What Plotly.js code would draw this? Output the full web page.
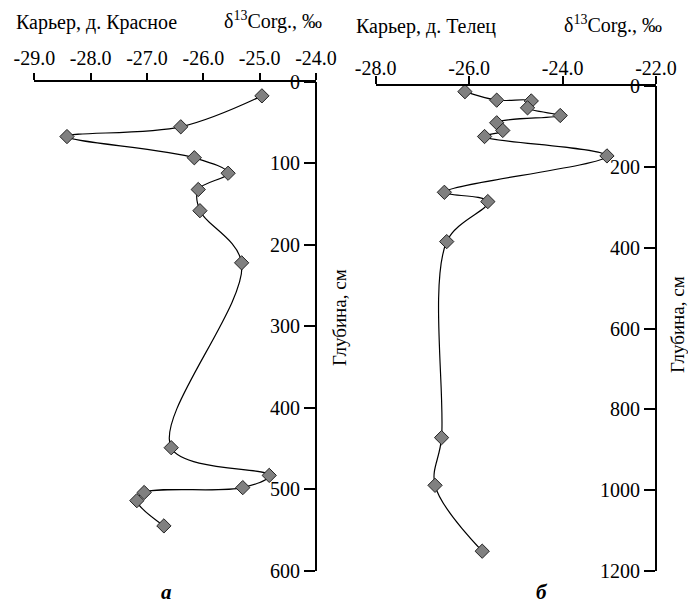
<!DOCTYPE html>
<html>
<head>
<meta charset="utf-8">
<script src="https://cdn.plot.ly/plotly-3.0.1.min.js"></script>
<style>html,body{margin:0;padding:0;background:#fff;}#chart{width:688px;height:605px;}</style>
</head>
<body>
<div id="chart"></div>
<script>
// Panel a: Карьер, д. Красное
const depthA = [17, 55, 67, 93, 112, 132, 158, 222, 449, 483, 498, 504, 514, 545];
const d13A = [-24.96, -26.40, -28.42, -26.16, -25.56, -26.09, -26.06, -25.32, -26.57, -24.83, -25.30, -27.05, -27.18, -26.70];
// Panel б: Карьер, д. Телец
const depthB = [14, 35, 37, 54, 73, 91, 110, 125, 173, 263, 286, 385, 870, 988, 1151];
const d13B = [-26.09, -25.41, -24.67, -24.75, -24.05, -25.41, -25.28, -25.67, -23.05, -26.53, -25.60, -26.48, -26.59, -26.73, -25.72];

const xTickValsA = [-29, -28, -27, -26, -25, -24];
const xTickTextA = ["-29.0", "-28.0", "-27.0", "-26.0", "-25.0", "-24.0"];
const xTickValsB = [-28, -26, -24, -22];
const xTickTextB = ["-28.0", "-26.0", "-24.0", "-22.0"];
const yTickValsA = [0, 100, 200, 300, 400, 500, 600];
const yTickValsB = [0, 200, 400, 600, 800, 1000, 1200];

const W = 688, H = 605;
const px = v => v / W;
const py = v => 1 - v / H;

const FONT = "Liberation Serif, Times New Roman, serif";

const markerStyle = {symbol: "diamond", size: 11, color: "#808080", line: {color: "#222", width: 1}};
const lineStyle = {color: "#000", width: 1.2, shape: "spline", smoothing: 1};

const traces = [
  {x: d13A, y: depthA, xaxis: "x", yaxis: "y", mode: "lines+markers", marker: markerStyle, line: lineStyle, cliponaxis: false},
  {x: d13B, y: depthB, xaxis: "x2", yaxis: "y2", mode: "lines+markers", marker: markerStyle, line: lineStyle, cliponaxis: false}
];

const axisCommon = {
  showgrid: false, zeroline: false, showline: true, linecolor: "#000", linewidth: 2,
  ticks: "outside", tickcolor: "#000", tickwidth: 2,
  tickfont: {family: FONT, size: 20, color: "#000"}, fixedrange: true
};

const layout = {
  width: W, height: H,
  margin: {l: 0, r: 0, t: 0, b: 0},
  paper_bgcolor: "#fff", plot_bgcolor: "#fff",
  showlegend: false,
  font: {family: FONT, color: "#000"},
  xaxis: Object.assign({}, axisCommon, {
    domain: [px(34.3), px(316)], range: [-29, -24], side: "top", anchor: "y",
    tickvals: xTickValsA, ticktext: xTickTextA, ticklen: 7
  }),
  yaxis: Object.assign({}, axisCommon, {
    domain: [py(570.7), py(82)], range: [600, 0], anchor: "free", position: px(316), side: "left",
    tickvals: yTickValsA, ticktext: yTickValsA.map(String), ticklen: 11
  }),
  xaxis2: Object.assign({}, axisCommon, {
    domain: [px(375.7), px(656)], range: [-28, -22], side: "top", anchor: "y2",
    tickvals: xTickValsB, ticktext: xTickTextB, ticklen: 8, ticklabelstandoff: -7
  }),
  yaxis2: Object.assign({}, axisCommon, {
    domain: [py(571), py(86)], range: [1200, 0], anchor: "free", position: px(656), side: "left",
    tickvals: yTickValsB, ticktext: yTickValsB.map(String), ticklen: 11
  }),
  annotations: [
    {text: "Карьер, д. Красное", x: px(14), y: py(22), xanchor: "left", yanchor: "middle"},
    {text: "δ<sup>13</sup>Corg., ‰", x: px(273), y: py(20), xanchor: "center", yanchor: "middle"},
    {text: "Карьер, д. Телец", x: px(354), y: py(26), xanchor: "left", yanchor: "middle"},
    {text: "δ<sup>13</sup>Corg., ‰", x: px(613), y: py(24), xanchor: "center", yanchor: "middle"},
    {text: "Глубина, см", x: px(339), y: py(318), xanchor: "center", yanchor: "middle", textangle: -90, font: {family: FONT, size: 19, color: "#000"}},
    {text: "Глубина, см", x: px(677), y: py(325), xanchor: "center", yanchor: "middle", textangle: -90, font: {family: FONT, size: 19, color: "#000"}},
    {text: "<b><i>а</i></b>", x: px(166), y: py(592), xanchor: "center", yanchor: "middle", font: {family: FONT, size: 21, color: "#000"}},
    {text: "<b><i>б</i></b>", x: px(542), y: py(592), xanchor: "center", yanchor: "middle", font: {family: FONT, size: 21, color: "#000"}}
  ].map(a => Object.assign({xref: "paper", yref: "paper", showarrow: false, font: {family: FONT, size: 20, color: "#000"}}, a))
};

Plotly.newPlot("chart", traces, layout, {displayModeBar: false, staticPlot: true});
</script>
</body>
</html>
